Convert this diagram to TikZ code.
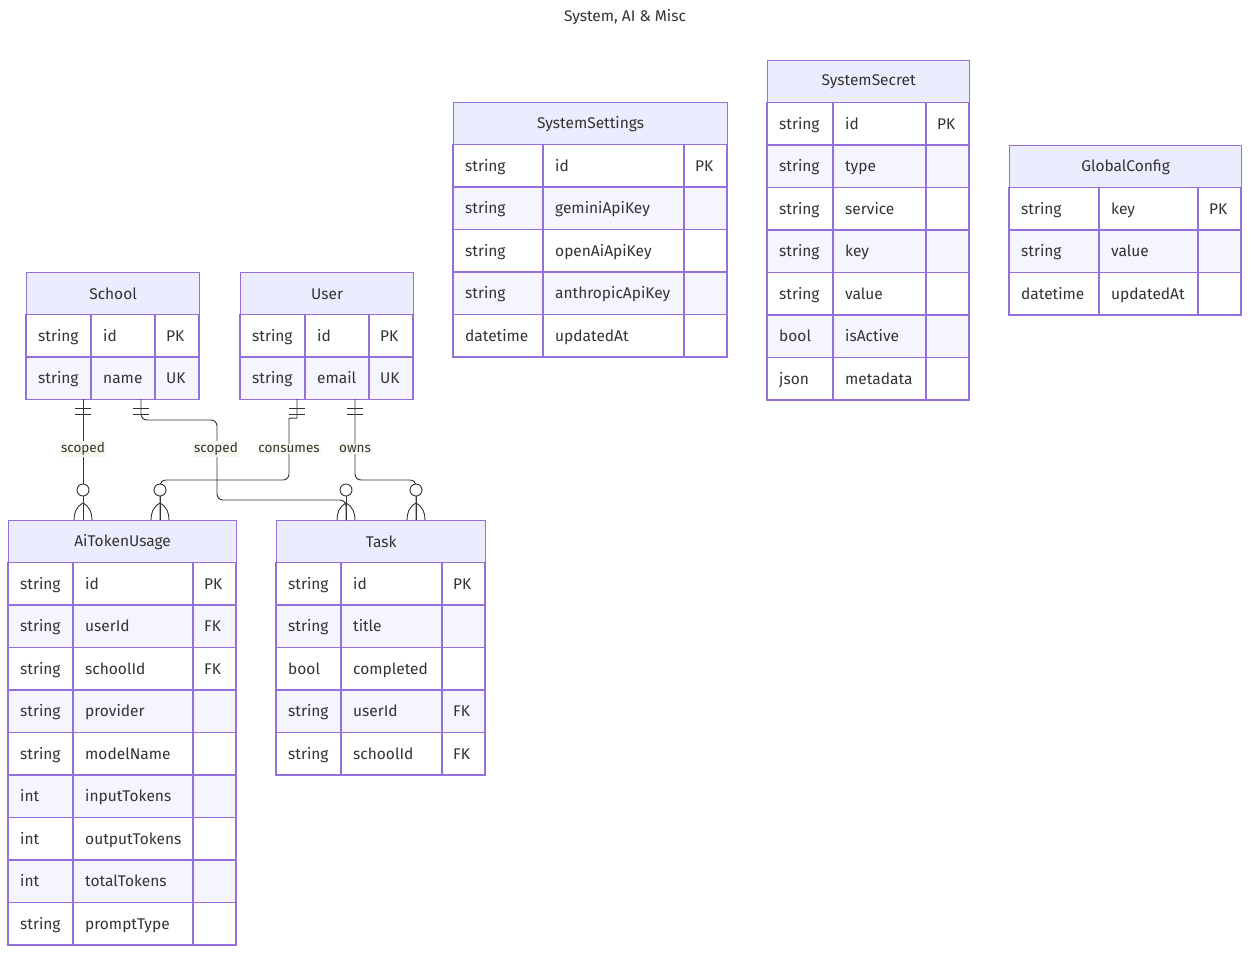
\documentclass[tikz,border=0pt]{standalone}
\usepackage{fontspec}
\setmainfont{Fira Sans}
\definecolor{bord}{HTML}{9370DB}
\definecolor{head}{HTML}{ECECFF}
\definecolor{rowb}{HTML}{F5F5FF}
\definecolor{txt}{HTML}{333333}
\definecolor{lblbg}{HTML}{F6F9EE}
\definecolor{edge}{HTML}{333333}
\tikzset{
  hdr/.style={draw=bord, fill=head, line width=1.2pt, text=txt, inner sep=0pt,
    font=\fontsize{15.5}{18}\selectfont, anchor=north west},
  celltxt/.style={text=txt, inner sep=0pt, anchor=base west, font=\fontsize{15.5}{18}\selectfont},
  conn/.style={draw=edge, line width=0.9pt},
  rlabel/.style={fill=lblbg, text=txt, inner sep=1.5pt, font=\fontsize{13.5}{16}\selectfont},
}
% #1 name, #2 left, #3 div1, #4 div2, #5 right, #6 top, #7 title, #8 rows
\newcommand\erentity[8]{%
  \node[hdr, minimum width={(#5-#2)*1pt}, minimum height=42.5pt] (#1) at (#2,#6) {#7};
  \foreach \ta/\na/\ka [count=\i from 0] in {#8} {
    \pgfmathsetmacro\yt{#6+42.5+42.5*\i}
    \pgfmathsetmacro\yb{\yt+42.5}
    \pgfmathsetmacro\ybase{\yt+21.25+5.5}
    \ifodd\i
      \fill[rowb] (#2,\yt) rectangle (#5,\yb);
    \else
      \fill[white] (#2,\yt) rectangle (#5,\yb);
    \fi
    \draw[bord, line width=1.2pt] (#2,\yt) rectangle (#5,\yb);
    \draw[bord, line width=1.2pt] (#3,\yt) -- (#3,\yb) (#4,\yt) -- (#4,\yb);
    \node[celltxt] (#1-t\i) at ({#2+12},\ybase) {\ta};
    \node[celltxt] (#1-n\i) at ({#3+12},\ybase) {\na};
    \node[celltxt] (#1-k\i) at ({#4+11},\ybase) {\ka};
  }
}
\newcommand\onebars[1]{%
  \draw[conn] ([xshift=-8pt,yshift=-9pt]#1) -- ([xshift=8pt,yshift=-9pt]#1);
  \draw[conn] ([xshift=-8pt,yshift=-15pt]#1) -- ([xshift=8pt,yshift=-15pt]#1);
}
\newcommand\zeromany[1]{%
  \draw[conn, fill=white] ([yshift=30pt]#1) circle (6pt);
  \draw[conn] ([yshift=24pt]#1) -- (#1);
  \draw[conn] ([yshift=17pt]#1) .. controls ([xshift=-7pt,yshift=13pt]#1) and ([xshift=-9pt,yshift=7pt]#1) .. ([xshift=-9pt]#1);
  \draw[conn] ([yshift=17pt]#1) .. controls ([xshift=7pt,yshift=13pt]#1) and ([xshift=9pt,yshift=7pt]#1) .. ([xshift=9pt]#1);
}
\begin{document}
\begin{tikzpicture}[x=1pt, y=-1pt]
\useasboundingbox (0,0) rectangle (1257,959);
\fill[white] (0,0) rectangle (1257,959);

\node[text=txt, font=\fontsize{15.5}{18}\selectfont] (title) at (625,17) {System, AI \& Misc};

\erentity{School}{26}{91}{155}{199}{272}{School}{string/id/PK, string/name/UK}
\erentity{User}{240}{305}{369}{413}{272}{User}{string/id/PK, string/email/UK}
\erentity{SystemSettings}{453}{543}{684}{727}{102}{SystemSettings}{string/id/PK, string/geminiApiKey/{}, string/openAiApiKey/{}, string/anthropicApiKey/{}, datetime/updatedAt/{}}
\erentity{SystemSecret}{767}{833}{926}{969}{60}{SystemSecret}{string/id/PK, string/type/{}, string/service/{}, string/key/{}, string/value/{}, bool/isActive/{}, json/metadata/{}}
\erentity{GlobalConfig}{1009}{1099}{1198}{1241}{145}{GlobalConfig}{string/key/PK, string/value/{}, datetime/updatedAt/{}}
\erentity{AiTokenUsage}{8}{73}{193}{236}{520}{AiTokenUsage}{string/id/PK, string/userId/FK, string/schoolId/FK, string/provider/{}, string/modelName/{}, int/inputTokens/{}, int/outputTokens/{}, int/totalTokens/{}, string/promptType/{}}
\erentity{Task}{276}{341}{442}{485}{520}{Task}{string/id/PK, string/title/{}, bool/completed/{}, string/userId/FK, string/schoolId/FK}

% connector end points
\coordinate (sA) at (83,399);   \coordinate (aS) at (83,520);
\coordinate (sB) at (141,399);  \coordinate (tS) at (346,520);
\coordinate (uA) at (297,399);  \coordinate (aU) at (160,520);
\coordinate (uB) at (355,399);  \coordinate (tU) at (416,520);

% School -> AiTokenUsage
\draw[conn] (sA) -- (aS);
% School -> Task
\draw[conn, rounded corners=6pt] (sB) -- (141,420) -- (217,420) -- (217,500) -- (346,500) -- (tS);
% User -> AiTokenUsage
\draw[conn, rounded corners=6pt] (uA) -- (297,412) .. controls (297,419) and (289,417) .. (289,425) -- (289,480) -- (160,480) -- (aU);
% User -> Task
\draw[conn, rounded corners=6pt] (uB) -- (355,480) -- (416,480) -- (tU);

\onebars{sA}\onebars{sB}\onebars{uA}\onebars{uB}
\zeromany{aS}\zeromany{tS}\zeromany{aU}\zeromany{tU}

\node[rlabel] (l1) at (83,449) {scoped};
\node[rlabel] (l2) at (216,449) {scoped};
\node[rlabel] (l3) at (289,449) {consumes};
\node[rlabel] (l4) at (355,449) {owns};
\end{tikzpicture}
\end{document}
